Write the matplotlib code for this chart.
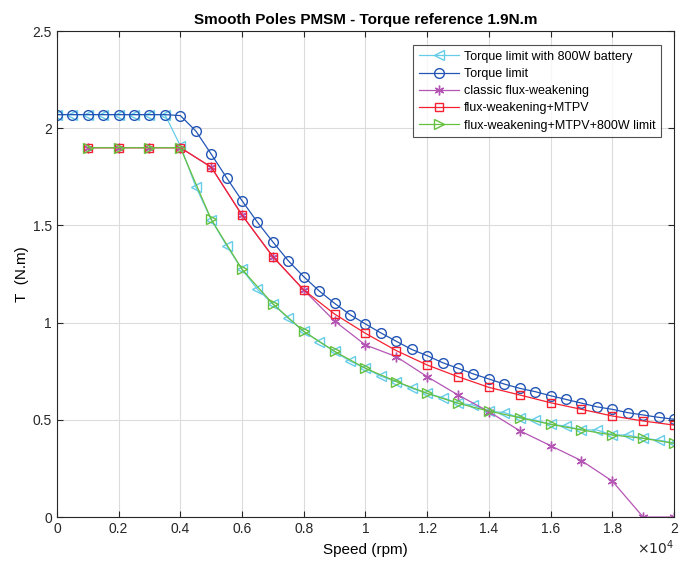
import numpy as np
import matplotlib
matplotlib.use('Agg')
import matplotlib.pyplot as plt
from matplotlib.ticker import FuncFormatter, MultipleLocator

plt.rcParams['font.family'] = ['Liberation Sans', 'DejaVu Sans']

# speeds (rpm)
speed_fine = np.arange(0, 20001, 500)
speed_coarse = np.arange(1000, 20001, 1000)

# Torque limit with 800W battery (every 500 rpm)
t_battery = [2.07, 2.07, 2.07, 2.07, 2.07, 2.07, 2.07, 2.07, 1.91, 1.70,
             1.53, 1.396, 1.274, 1.171, 1.096, 1.022, 0.955, 0.902, 0.852, 0.802,
             0.765, 0.724, 0.697, 0.662, 0.636, 0.614, 0.585, 0.576, 0.545, 0.537,
             0.511, 0.499, 0.477, 0.468, 0.448, 0.448, 0.422, 0.422, 0.405, 0.396,
             0.38]

# Torque limit (every 500 rpm)
t_limit = [2.07, 2.07, 2.07, 2.07, 2.07, 2.07, 2.07, 2.07, 2.065, 1.986,
           1.867, 1.745, 1.627, 1.516, 1.415, 1.318, 1.236, 1.163, 1.099, 1.041,
           0.993, 0.947, 0.904, 0.862, 0.830, 0.794, 0.765, 0.736, 0.710, 0.684,
           0.662, 0.645, 0.624, 0.605, 0.586, 0.567, 0.554, 0.537, 0.525, 0.513,
           0.503]

# every 1000 rpm from 1000
t_classic = [1.9, 1.9, 1.9, 1.9, 1.80, 1.553, 1.339, 1.168, 1.008, 0.885,
             0.825, 0.722, 0.628, 0.542, 0.444, 0.367, 0.290, 0.185, 0.0, 0.0]
t_mtpv = [1.9, 1.9, 1.9, 1.9, 1.80, 1.553, 1.339, 1.168, 1.044, 0.945,
          0.856, 0.782, 0.722, 0.667, 0.628, 0.588, 0.554, 0.520, 0.494, 0.473]
t_mtpv_800 = [1.9, 1.9, 1.9, 1.9, 1.531, 1.274, 1.096, 0.955, 0.852, 0.765,
              0.697, 0.636, 0.585, 0.545, 0.511, 0.477, 0.448, 0.422, 0.405, 0.379]

fig, ax = plt.subplots(figsize=(6.86, 5.62), dpi=100)
fig.subplots_adjust(left=0.083, right=0.9825, top=0.9448, bottom=0.08)

lw = 0.9
ms = 7
ax.plot(speed_fine, t_battery, color='#66cce8', marker='<', ms=ms, mfc='none', lw=lw,
        label='Torque limit with 800W battery')
ax.plot(speed_fine, t_limit, color='#2255b5', marker='o', ms=ms, mfc='none', lw=lw,
        label='Torque limit')
ax.plot(speed_coarse, t_classic, color='#b455b4', marker=(6, 2, 0), ms=ms, lw=lw,
        mew=1.0, label='classic flux-weakening')
ax.plot(speed_coarse, t_mtpv, color='#f52030', marker='s', ms=6, mfc='none', lw=lw,
        label='flux-weakening+MTPV')
ax.plot(speed_coarse, t_mtpv_800, color='#66c040', marker='>', ms=ms, mfc='none', lw=lw,
        label='flux-weakening+MTPV+800W limit')

ax.set_xlim(0, 20000)
ax.set_ylim(0, 2.5)
ax.xaxis.set_major_locator(MultipleLocator(2000))
ax.yaxis.set_major_locator(MultipleLocator(0.5))
ax.xaxis.set_major_formatter(FuncFormatter(lambda v, p: '%g' % (v / 1e4)))
ax.yaxis.set_major_formatter(FuncFormatter(lambda v, p: '%g' % v))
ax.tick_params(direction='in', length=4, labelsize=10, colors='#262626',
               top=True, right=True)
ax.grid(True, color='#dcdcdc', lw=0.8)
for s in ax.spines.values():
    s.set_color('#262626')
    s.set_linewidth(0.8)

ax.set_title('Smooth Poles PMSM - Torque reference 1.9N.m', fontsize=11,
             fontweight='bold', pad=5)
ax.set_xlabel('Speed (rpm)', fontsize=11, labelpad=5)
ax.set_ylabel('T  (N.m)', fontsize=11)
ax.yaxis.set_label_coords(-0.045, 0.5)
ax.text(1.0, -0.063, r'$\times10^4$', transform=ax.transAxes, ha='right',
        va='center', fontsize=10, color='#262626')

leg = ax.legend(loc='upper right', bbox_to_anchor=(0.979, 0.971), borderaxespad=0,
                fontsize=9, frameon=True, fancybox=False, handlelength=3.2,
                borderpad=0.45, labelspacing=0.42, handletextpad=0.4)
leg.get_frame().set_edgecolor('#262626')
leg.get_frame().set_linewidth(0.8)

plt.savefig('out.png', dpi=100)
